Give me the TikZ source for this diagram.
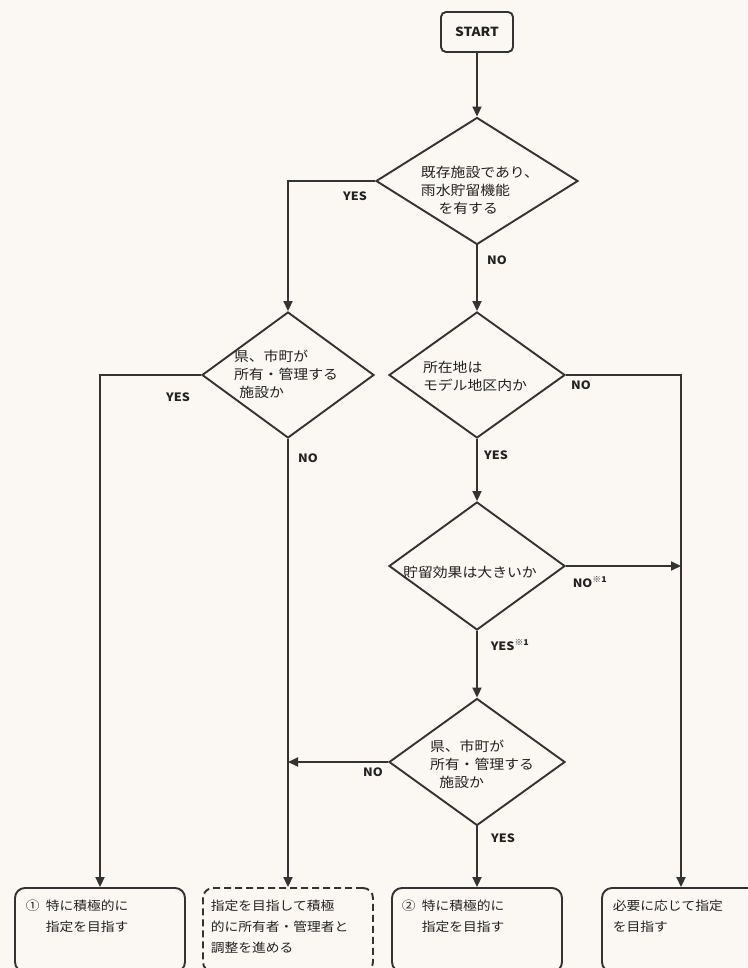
\documentclass[tikz,border=0pt]{standalone}
\usepackage{fontspec}
\setmainfont{Noto Sans CJK JP}[FakeStretch=1.1]
\usetikzlibrary{shapes.geometric,arrows.meta}
\definecolor{ink}{HTML}{333333}
\definecolor{txt}{HTML}{222222}
\definecolor{paper}{HTML}{FBF8F4}
\tikzset{
  startbox/.style={draw=ink, rounded corners=5pt, minimum width=72pt, minimum height=40pt, inner sep=0pt, text=txt, font=\fontsize{12.5}{14}\selectfont\bfseries},
  dia/.style={draw=ink, diamond, inner sep=0pt},
  dtext/.style={align=left, inner sep=0pt, text=txt, font=\fontsize{13.5}{18}\selectfont},
  lab/.style={inner sep=0pt, text=txt, font=\fontsize{11.5}{13}\selectfont\bfseries},
  endbox/.style={draw=ink, rounded corners=10pt, inner sep=0pt, minimum height=84pt},
  btext/.style={anchor=north west, align=left, inner sep=0pt, text=txt, font=\fontsize{12.5}{21}\selectfont},
  flow/.style={draw=ink, ->}
}
\begin{document}
\begin{tikzpicture}[x=1pt, y=-1pt, line width=1.9pt, >={Triangle[length=10pt,width=9pt]}]
\useasboundingbox (0,0) rectangle (747,968);
\fill[paper] (0,0) rectangle (747,968);

% nodes
\node[startbox] (start) at (477,32) {START};

\node[dia, minimum width=202pt, minimum height=127pt] (d1) at (477,181) {};
\node[dtext] (t1) at (480,190) {既存施設であり、\\雨水貯留機能\\\hspace*{1.3em}を有する};

\node[dia, minimum width=172pt, minimum height=126pt] (d2) at (288,375) {};
\node[dtext] (t2) at (286,374) {県、市町が\\所有・管理する\\\hspace*{0.4em}施設か};

\node[dia, minimum width=176pt, minimum height=126pt] (d3) at (477,375) {};
\node[dtext] (t3) at (475,376) {所在地は\\モデル地区内か};

\node[dia, minimum width=176pt, minimum height=128pt] (d4) at (477,566) {};
\node[dtext] (t4) at (470,572) {貯留効果は大きいか};

\node[dia, minimum width=176pt, minimum height=127pt] (d5) at (477,762) {};
\node[dtext] (t5) at (482,764) {県、市町が\\所有・管理する\\\hspace*{0.7em}施設か};

\node[endbox, minimum width=170pt] (b1) at (100,930) {};
\node[endbox, minimum width=170pt, dashed, dash pattern=on 7pt off 4pt] (b2) at (288,930) {};
\node[endbox, minimum width=170pt] (b3) at (477,930) {};
\node[endbox, minimum width=158pt] (b4) at (681,930) {};

\node[btext] (b1t) at (25,899) {①\hspace{0.5em}特に積極的に\\\phantom{①}\hspace{0.5em}指定を目指す};
\node[btext] (b2t) at (210,899) {指定を目指して積極\\的に所有者・管理者と\\調整を進める};
\node[btext] (b3t) at (401,899) {②\hspace{0.5em}特に積極的に\\\phantom{②}\hspace{0.5em}指定を目指す};
\node[btext] (b4t) at (612,899) {必要に応じて指定\\を目指す};

% labels
\node[lab] (l1) at (355,196) {YES};
\node[lab] (l2) at (497,260) {NO};
\node[lab] (l3) at (178,397) {YES};
\node[lab] (l4) at (308,458) {NO};
\node[lab] (l5) at (581,385) {NO};
\node[lab] (l6) at (496,455) {YES};
\node[lab] (l7) at (590,582) {NO\textsuperscript{※1}};
\node[lab] (l8) at (510,645) {YES\textsuperscript{※1}};
\node[lab] (l9) at (373,772) {NO};
\node[lab] (l10) at (503,838) {YES};

% connectors
\draw[flow] (start.south) -- (d1.north);
\draw[flow] (d1.west) -| (d2.north);
\draw[flow] (d1.south) -- (d3.north);
\draw[flow] (d2.west) -| (b1.north);
\draw[flow] (d2.south) -- (d2.south |- b2.north);
\draw[flow] (d3.east) -| (b4.north);
\draw[flow] (d3.south) -- (d4.north);
\draw[flow] (d4.east) -- (d4.east -| b4.north);
\draw[flow] (d4.south) -- (d5.north);
\draw[flow] (d5.west) -- (d5.west -| d2.south);
\draw[flow] (d5.south) -- (b3.north);
\end{tikzpicture}
\end{document}
